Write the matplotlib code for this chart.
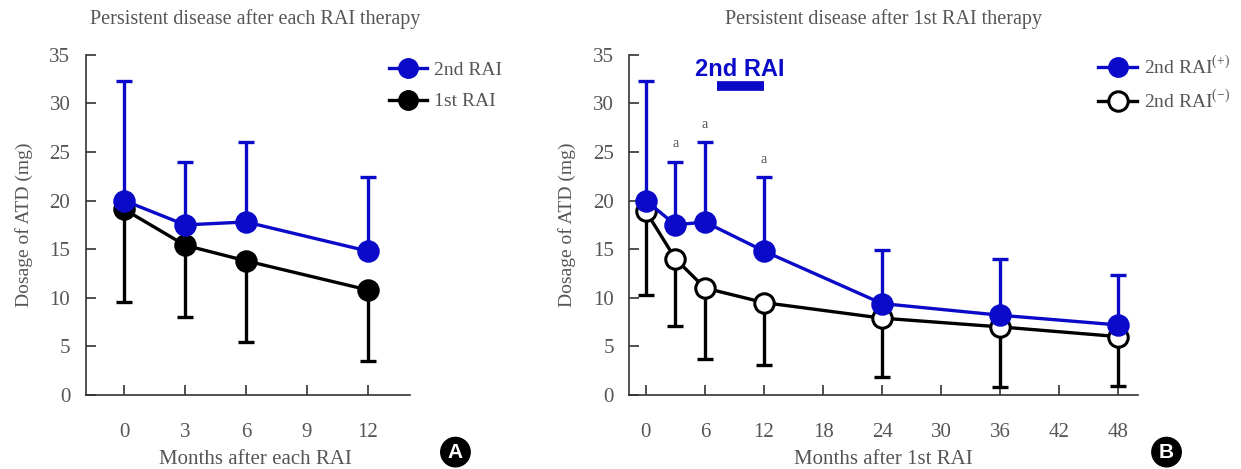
import matplotlib.pyplot as plt
from matplotlib.lines import Line2D

plt.rcParams['font.family'] = ['Liberation Serif', 'DejaVu Serif']
plt.rcParams['mathtext.fontset'] = 'custom'
plt.rcParams['mathtext.rm'] = 'Liberation Serif'

BLUE = '#0a0ac8'
GREY = '#555555'

# panel A: months after each RAI
months_a = [0, 3, 6, 12]
a_second_mean = [20.0, 17.5, 17.8, 14.8]
a_second_sd = [12.3, 6.5, 8.2, 7.6]
a_first_mean = [19.1, 15.4, 13.8, 10.8]
a_first_sd = [9.5, 7.4, 8.4, 7.3]

# panel B: months after 1st RAI
months_b = [0, 3, 6, 12, 24, 36, 48]
b_pos_mean = [20.0, 17.5, 17.8, 14.8, 9.4, 8.2, 7.2]
b_pos_sd = [12.3, 6.5, 8.2, 7.6, 5.5, 5.8, 5.1]
b_neg_mean = [18.9, 14.0, 11.0, 9.5, 7.9, 7.0, 6.0]
b_neg_sd = [8.6, 6.9, 7.3, 6.4, 6.1, 6.2, 5.1]
sig_months = [3, 6, 12]

fig = plt.figure(figsize=(12.41, 4.69), dpi=100)
axA = fig.add_axes([0.069, 0.158, 0.261, 0.725])
axB = fig.add_axes([0.507, 0.158, 0.410, 0.725])


def style(ax, xticks, xlim):
    ax.set_xlim(*xlim)
    ax.set_ylim(0, 35)
    ax.set_xticks(xticks)
    ax.set_yticks(range(0, 36, 5))
    for s in ['top', 'right']:
        ax.spines[s].set_visible(False)
    for s in ['left', 'bottom']:
        ax.spines[s].set_color('#333333')
        ax.spines[s].set_linewidth(1.2)
    ax.tick_params(direction='in', length=7, width=1.2, color='#333333',
                   labelsize=15, labelcolor=GREY)
    ax.tick_params(axis='x', pad=20)
    ax.tick_params(axis='y', pad=11)
    ax.set_ylabel('Dosage of ATD (mg)', fontsize=14, color=GREY, labelpad=12)


def series(ax, x, m, sd, color, face, up, z):
    lo = [0] * len(sd)
    yerr = [lo, sd] if up else [sd, lo]
    ax.errorbar(x, m, yerr=yerr, fmt='none', ecolor=color, elinewidth=2.4,
                capsize=6, capthick=2.4, zorder=z)
    ax.plot(x, m, color=color, lw=2.4, marker='o', ms=14, mfc=face,
            mec=color, mew=2.2, zorder=z + 1)


# panel A
style(axA, [0, 3, 6, 9, 12], (-1.9, 14.05))
series(axA, months_a, a_first_mean, a_first_sd, 'black', 'black', False, 2)
series(axA, months_a, a_second_mean, a_second_sd, BLUE, BLUE, True, 4)
axA.set_xlabel('Months after each RAI', fontsize=15, color=GREY, labelpad=6, x=0.523)
axA.set_title('Persistent disease after each RAI therapy', fontsize=14.5,
              color=GREY, pad=22, x=0.523)
hA = [Line2D([], [], color=BLUE, lw=2.4, marker='o', ms=14, mfc=BLUE, mec=BLUE),
      Line2D([], [], color='black', lw=2.4, marker='o', ms=14, mfc='black', mec='black')]
axA.legend(hA, ['2nd RAI', '1st RAI'], loc='upper left', frameon=False,
           fontsize=14, labelcolor=GREY, handlelength=2.0, handletextpad=0.35,
           labelspacing=0.7, bbox_to_anchor=(0.299, 0.906), bbox_transform=fig.transFigure)

# panel B
style(axB, list(range(0, 49, 6)), (-1.7, 50))
series(axB, months_b, b_neg_mean, b_neg_sd, 'black', 'white', False, 2)
series(axB, months_b, b_pos_mean, b_pos_sd, BLUE, BLUE, True, 4)
axB.set_xlabel('Months after 1st RAI', fontsize=15, color=GREY, labelpad=6)
axB.set_title('Persistent disease after 1st RAI therapy', fontsize=14.5,
              color=GREY, pad=22)
for mo in sig_months:
    i = months_b.index(mo)
    axB.text(mo, b_pos_mean[i] + b_pos_sd[i] + 1.2, 'a', fontsize=10,
             color=GREY, ha='center', va='bottom')
axB.text(9.55, 33.5, '2nd RAI', family=['Liberation Sans', 'DejaVu Sans'],
         fontsize=17, fontweight='bold', color=BLUE, ha='center', va='center')
axB.plot([7.2, 12.0], [31.8, 31.8], color=BLUE, lw=7, solid_capstyle='butt')
hB = [Line2D([], [], color=BLUE, lw=2.4, marker='o', ms=14, mfc=BLUE, mec=BLUE),
      Line2D([], [], color='black', lw=2.4, marker='o', ms=14, mfc='white', mec='black', mew=2.2)]
axB.legend(hB, ['2nd RAI$^{(+)}$', '2nd RAI$^{(-)}$'], loc='upper left',
           frameon=False, fontsize=14, labelcolor=GREY, handlelength=2.0,
           handletextpad=0.35, labelspacing=0.6,
           bbox_to_anchor=(0.871, 0.920), bbox_transform=fig.transFigure)

# panel badges
for x, lab in [(0.367, 'A'), (0.940, 'B')]:
    fig.text(x, 0.036, lab, fontsize=15, fontweight='bold', color='white',
             family=['Liberation Sans', 'DejaVu Sans'], ha='center', va='center',
             bbox=dict(boxstyle='circle,pad=0.25', fc='black', ec='black'))

fig.savefig('out.png', dpi=100)
